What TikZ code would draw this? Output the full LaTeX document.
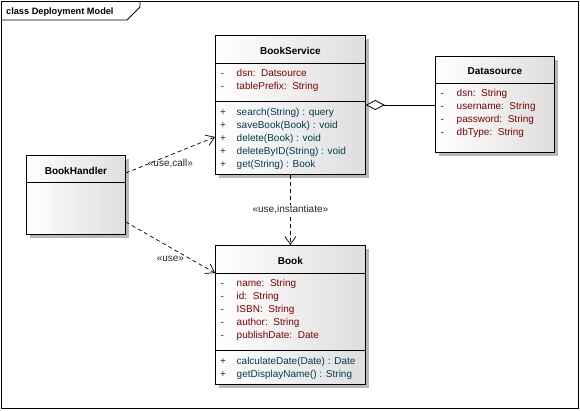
\documentclass[tikz,border=0pt]{standalone}
\usepackage{fontspec}
\setmainfont{Liberation Sans}
\usetikzlibrary{arrows.meta,positioning,shadows}
\definecolor{attrred}{RGB}{128,0,0}
\definecolor{opteal}{RGB}{0,60,80}
\tikzset{classbox/.style={rectangle,draw,line width=.8pt,anchor=north west,inner sep=0pt,left color=white,right color=black!13,drop shadow={shadow xshift=4pt,shadow yshift=-4pt,fill=black!28,opacity=1}},classname/.style={font=\fontsize{10}{12}\selectfont\bfseries,anchor=base,inner sep=0pt},member/.style={font=\fontsize{10}{12}\selectfont,anchor=base west,inner sep=0pt},attr/.style={member,text=attrred},op/.style={member,text=opteal},stereo/.style={font=\fontsize{10}{12}\selectfont,text=black!85,inner sep=1pt},depend/.style={dash pattern=on 4pt off 3pt,line width=.7pt,-{Straight Barb[length=8pt,width=11pt]}},aggregate/.style={line width=.8pt,{Diamond[open,fill=white,length=19pt,width=10pt]}-},divider/.style={line width=.8pt}}

\begin{document}
\begin{tikzpicture}[x=1pt,y=-1pt]
\useasboundingbox (0,0) rectangle (580,410);
\draw[line width=.8pt] (1,1) rectangle (578,408);
\draw[line width=.8pt] (1,20) -- (127,20) -- (140,7) -- (140,1);
\node[classname,anchor=base west,font=\fontsize{9.2}{11}\selectfont\bfseries] (frametitle) at (6,14.5) {class Deployment Model};
\node[classbox,minimum width=150pt,minimum height=139pt] (svc) at (215,35) {};
\node[classbox,minimum width=119pt,minimum height=96pt] (ds) at (435,56) {};
\node[classbox,minimum width=150pt,minimum height=139pt] (book) at (215,245) {};
\node[classbox,minimum width=99pt,minimum height=79pt] (hdl) at (26,155) {};
\node[classname] (svcT) at (svc.north |- 0,54.5) {BookService};
\node[classname] (dsT) at (ds.north |- 0,74.5) {Datasource};
\node[classname] (bookT) at (book.north |- 0,264.5) {Book};
\node[classname] (hdlT) at (hdl.north |- 0,174.5) {BookHandler};
\draw[divider] (svc.west |- 0,63) -- (svc.east |- 0,63);
\draw[divider] (svc.west |- 0,101) -- (svc.east |- 0,101);
\draw[divider] (ds.west |- 0,83) -- (ds.east |- 0,83);
\draw[divider] (book.west |- 0,273) -- (book.east |- 0,273);
\draw[divider] (book.west |- 0,350) -- (book.east |- 0,350);
\draw[divider] (hdl.west |- 0,182) -- (hdl.east |- 0,182);
\foreach \m [count=\i] in {dsn:\ \ Datsource,tablePrefix:\ \ String}
\node[attr] (svcA\i) at (220.5,63+13*\i) {\makebox[16pt][l]{-}\m};
\foreach \m [count=\i] in {search(String) : query,saveBook(Book) : void,delete(Book) : void,deleteByID(String) : void,get(String) : Book}
\node[op] (svcO\i) at (220,102.5+13*\i) {\makebox[16.5pt][l]{+}\m};
\foreach \m [count=\i] in {dsn:\ \ String,username:\ \ String,password:\ \ String,dbType:\ \ String}
\node[attr] (dsA\i) at (440.5,83.5+13*\i) {\makebox[16pt][l]{-}\m};
\foreach \m [count=\i] in {name:\ \ String,id:\ \ String,ISBN:\ \ String,author:\ \ String,publishDate:\ \ Date}
\node[attr] (bookA\i) at (220.5,273.5+13*\i) {\makebox[16pt][l]{-}\m};
\foreach \m [count=\i] in {calculateDate(Date) : Date,getDisplayName() : String}
\node[op] (bookO\i) at (220,351.5+13*\i) {\makebox[16.5pt][l]{+}\m};
\draw[depend] (hdl.east |- 0,173) -- node[stereo,yshift=-9pt] (callL) {«use,call»} (svc.west |- 0,137);
\draw[depend] (hdl.east |- 0,222) -- node[stereo,yshift=-11pt] (useL) {«use»} (book.west |- 0,273);
\draw[depend] (svc.south) -- node[stereo,fill=white] (instL) {«use,instantiate»} (book.north);
\draw[aggregate] (svc.east |- 0,105) -- (ds.west |- 0,105);
\end{tikzpicture}
\end{document}
